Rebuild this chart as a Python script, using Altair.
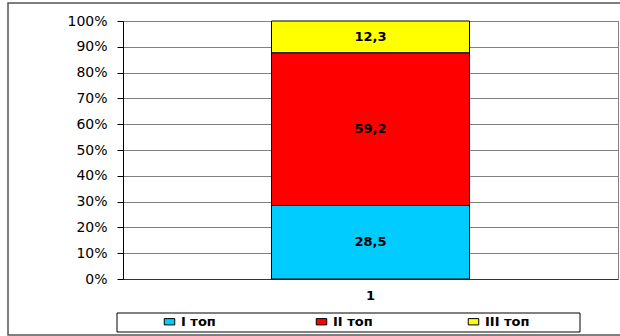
import altair as alt
import pandas as pd

# Share of each group (percent) within the single column
groups = ["I топ", "II топ", "III топ"]
shares = [28.5, 59.2, 12.3]
category = ["1", "1", "1"]
colors = ["#00CCFF", "#FF0000", "#FFFF00"]
tick_values = [0.0, 0.1, 0.2, 0.3, 0.4, 0.5, 0.6, 0.7, 0.8, 0.9, 1.0]

df = pd.DataFrame({
    "group": groups,
    "share": shares,
    "cat": category,
    "idx": list(range(len(groups))),
})

FONT = "DejaVu Sans"

color_scale = alt.Scale(domain=groups, range=colors)

x_axis = alt.Axis(labelAngle=0, ticks=False, grid=False, domainColor="#333333",
                  labelFont=FONT, labelFontSize=13, labelFontWeight="bold",
                  labelColor="#000000", labelPadding=10)
y_axis = alt.Axis(format=".0%", values=tick_values, labelOverlap=False,
                  grid=True, gridColor="#808080", gridWidth=1,
                  domainColor="#000000", tickColor="#000000", tickSize=6,
                  labelFont=FONT, labelFontSize=14, labelColor="#000000",
                  labelPadding=10)
x_scale = alt.Scale(paddingInner=0, paddingOuter=0.75)
y_scale = alt.Scale(domain=[0, 1])

base = alt.Chart(df)

bars = base.mark_bar(stroke="#000000", strokeWidth=1).encode(
    x=alt.X("cat:N", title=None, scale=x_scale, axis=x_axis),
    y=alt.Y("share:Q", stack="normalize", title=None, scale=y_scale, axis=y_axis),
    color=alt.Color("group:N", scale=color_scale, sort=groups,
                    legend=alt.Legend(title=None, orient="none", direction="horizontal",
                                      columns=3, legendX=40, legendY=294,
                                      symbolType="M-1,-0.6H1V0.6H-1Z", symbolSize=110,
                                      symbolStrokeColor="#000000", symbolStrokeWidth=1,
                                      labelFont=FONT, labelFontSize=13, labelFontWeight="bold",
                                      labelColor="#000000", labelOffset=5,
                                      columnPadding=88, gridAlign="all", padding=0)),
    order=alt.Order("idx:Q", sort="ascending"),
)

labels = base.transform_joinaggregate(
    total="sum(share)"
).transform_window(
    cum="sum(share)", sort=[alt.SortField("idx")], frame=[None, 0]
).transform_calculate(
    mid="(datum.cum - datum.share / 2) / datum.total",
    txt="replace(format(datum.share, '.1f'), '.', ',')",
).mark_text(font=FONT, fontSize=13, fontWeight="bold", color="#000000").encode(
    x=alt.X("cat:N", title=None, scale=x_scale, axis=x_axis),
    y=alt.Y("mid:Q", title=None, scale=y_scale, axis=y_axis),
    text="txt:N",
)

frame_df = pd.DataFrame({"k": [0]})

# Outer chart frame and the legend box
outer = alt.Chart(frame_df).mark_rect(fill=None, stroke="#555555", strokeWidth=1.5).encode(
    x=alt.value(-115), x2=alt.value(500), y=alt.value(-18), y2=alt.value(314)
)
legend_box = alt.Chart(frame_df).mark_rect(fill="#FFFFFF", stroke="#000000", strokeWidth=1).encode(
    x=alt.value(-6), x2=alt.value(457), y=alt.value(292), y2=alt.value(311)
)

chart = alt.layer(outer, legend_box, bars, labels).properties(
    width=495, height=258,
    padding={"left": 123, "top": 21, "right": 2, "bottom": 57},
    autosize=alt.AutoSizeParams(type="none"),
    background="#FFFFFF",
).configure_view(stroke="#808080", strokeWidth=1)

chart.save("out.html", embed_options={"renderer": "svg", "actions": False})
